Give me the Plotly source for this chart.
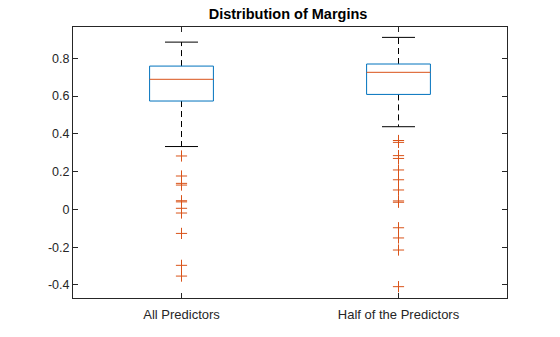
import plotly.graph_objects as go

categories = ["All Predictors", "Half of the Predictors"]
positions = [1, 2]
q1 = [0.574, 0.609]
median = [0.689, 0.726]
q3 = [0.759, 0.770]
lower_whisker = [0.333, 0.438]
upper_whisker = [0.886, 0.911]
outliers = [
    [0.283, 0.177, 0.138, 0.129, 0.046, 0.040, 0.006, -0.019, -0.127, -0.296, -0.353],
    [0.365, 0.355, 0.285, 0.270, 0.209, 0.157, 0.103, 0.045, 0.038, -0.097, -0.151, -0.215, -0.409],
]
ytick_vals = [-0.4, -0.2, 0, 0.2, 0.4, 0.6, 0.8]
ytick_text = ["-0.4", "-0.2", "0", "0.2", "0.4", "0.6", "0.8"]

BLUE = "#0072BD"
RED = "#D95319"
BLACK = "#000000"
FONT = "Liberation Sans, Arial, Helvetica, sans-serif"
hw = 0.147   # box half width
cw = 0.076   # cap half width

fig = go.Figure()
for i, p in enumerate(positions):
    fig.add_trace(go.Scatter(x=[p, p, None, p, p],
                             y=[q3[i], upper_whisker[i], None, q1[i], lower_whisker[i]],
                             mode="lines", line=dict(color=BLACK, width=1, dash="6px,4px"),
                             hoverinfo="skip", showlegend=False))
    fig.add_trace(go.Scatter(x=[p - cw, p + cw, None, p - cw, p + cw],
                             y=[upper_whisker[i], upper_whisker[i], None, lower_whisker[i], lower_whisker[i]],
                             mode="lines", line=dict(color=BLACK, width=1),
                             hoverinfo="skip", showlegend=False))
    fig.add_trace(go.Scatter(x=[p - hw, p + hw, p + hw, p - hw, p - hw],
                             y=[q1[i], q1[i], q3[i], q3[i], q1[i]],
                             mode="lines", line=dict(color=BLUE, width=1),
                             hoverinfo="skip", showlegend=False))
    fig.add_trace(go.Scatter(x=[p - hw, p + hw], y=[median[i], median[i]],
                             mode="lines", line=dict(color=RED, width=1),
                             hoverinfo="skip", showlegend=False))
    fig.add_trace(go.Scatter(x=[p] * len(outliers[i]), y=outliers[i], mode="markers",
                             marker=dict(symbol="cross-thin", size=8,
                                         line=dict(color=RED, width=1)),
                             hoverinfo="skip", showlegend=False))

axis_common = dict(showline=True, linecolor="#262626", linewidth=1, mirror="ticks",
                   ticks="inside", ticklen=5, tickcolor="#262626", showgrid=False,
                   zeroline=False)

fig.update_layout(
    width=560, height=337,
    margin=dict(l=73, r=53, t=27, b=39),
    paper_bgcolor="white", plot_bgcolor="white",
    title=dict(text="<b>Distribution of Margins</b>", x=288 / 560,
               xanchor="center", y=1 - 14 / 337, yanchor="middle",
               font=dict(family=FONT, size=14.5, color="#000000")),
    xaxis=dict(range=[0.5, 2.5], tickvals=positions, ticktext=categories,
               tickfont=dict(family=FONT, size=13, color="#262626"),
               ticklabelstandoff=4, **axis_common),
    yaxis=dict(range=[-0.469, 0.966], tickvals=ytick_vals, ticktext=ytick_text,
               tickfont=dict(family=FONT, size=12.5, color="#262626"),
               **axis_common),
)
fig.write_html("out.html")
